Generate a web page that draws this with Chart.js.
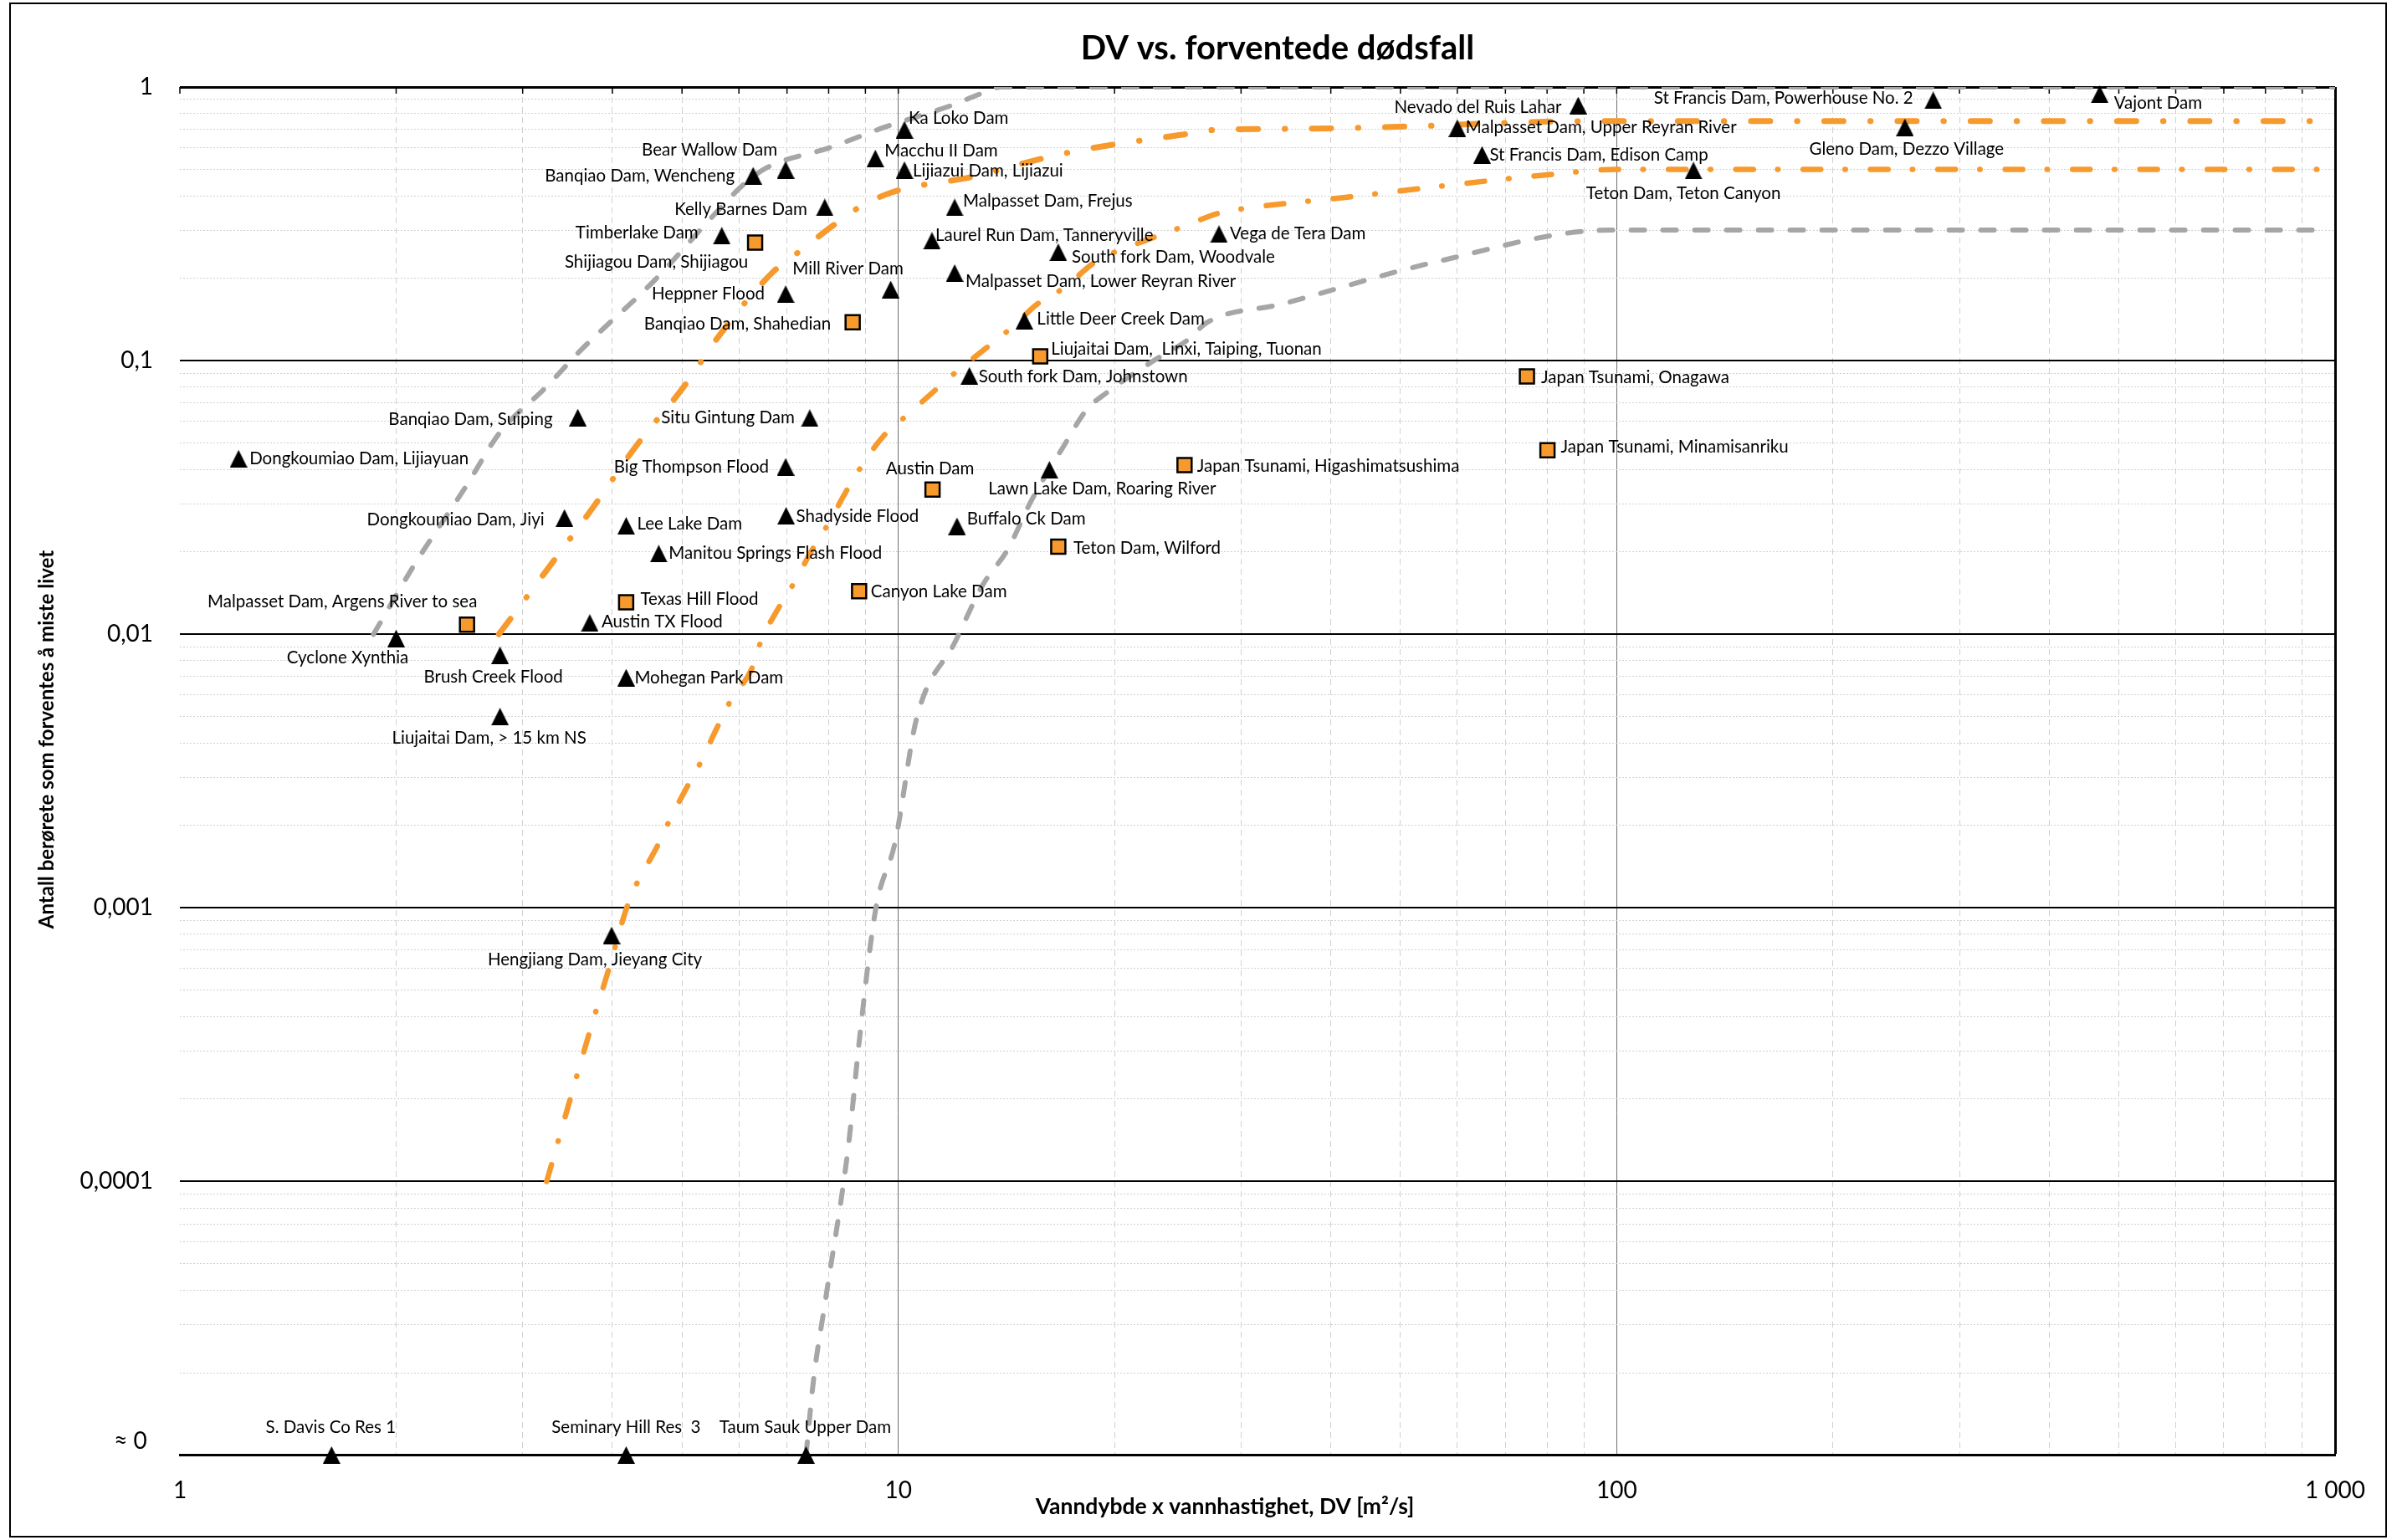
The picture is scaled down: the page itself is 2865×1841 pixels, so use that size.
<!DOCTYPE html>
<html>
<head>
<meta charset="utf-8">
<title>DV vs. forventede dødsfall</title>
<script src="https://cdn.jsdelivr.net/npm/chart.js@4.4.1/dist/chart.umd.min.js"></script>
<style>
  html, body { margin: 0; padding: 0; background: #ffffff; }
  #wrap { width: 2865px; height: 1841px; position: relative; }
</style>
</head>
<body>
<div id="wrap"><canvas id="c" width="2865" height="1841"></canvas></div>
<script>
// ---- Text ----
const chartTitle = 'DV vs. forventede dødsfall';
const xTitle = 'Vanndybde x vannhastighet, DV [m²/s]';
const yTitle = 'Antall berørete som forventes å miste livet';
const xTickLabels = ['1', '10', '100', '1 000'];          // decades 10^0 .. 10^3
const yTickLabels = ['≈ 0', '0,0001', '0,001', '0,01', '0,1', '1']; // decades 10^-5 .. 10^0

// ---- Dam failures (triangles) ----
const triNames = [
  'Dongkoumiao Dam, Lijiayuan', 'Banqiao Dam, Suiping', 'Dongkoumiao Dam, Jiyi', 'Lee Lake Dam',
  'Manitou Springs Flash Flood', 'Austin TX Flood', 'Cyclone Xynthia', 'Brush Creek Flood',
  'Liujaitai Dam, > 15 km NS', 'Mohegan Park Dam', 'Hengjiang Dam, Jieyang City', 'Bear Wallow Dam',
  'Banqiao Dam, Wencheng', 'Kelly Barnes Dam', 'Timberlake Dam', 'Heppner Flood',
  'Mill River Dam', 'Ka Loko Dam', 'Macchu II Dam', 'Lijiazui Dam, Lijiazui',
  'Malpasset Dam, Frejus', 'Laurel Run Dam, Tanneryville', 'Malpasset Dam, Lower Reyran River', 'South fork Dam, Woodvale',
  'Vega de Tera Dam', 'Little Deer Creek Dam', 'South fork Dam, Johnstown', 'Situ Gintung Dam',
  'Big Thompson Flood', 'Shadyside Flood', 'Lawn Lake Dam, Roaring River', 'Buffalo Ck Dam',
  'Nevado del Ruis Lahar', 'Malpasset Dam, Upper Reyran River', 'St Francis Dam, Edison Camp', 'Teton Dam, Teton Canyon',
  'St Francis Dam, Powerhouse No. 2', 'Vajont Dam', 'Gleno Dam, Dezzo Village', 'S. Davis Co Res 1',
  'Seminary Hill Res  3', 'Taum Sauk Upper Dam'
];
const triDV = [
  1.207, 3.58, 3.43, 4.18,
  4.64, 3.72, 2.00, 2.79,
  2.79, 4.18, 3.99, 6.97,
  6.28, 7.90, 5.68, 6.97,
  9.76, 10.2, 9.29, 10.2,
  11.98, 11.14, 11.98, 16.7,
  27.95, 14.98, 12.56, 7.53,
  6.97, 6.98, 16.23, 12.07,
  88.4, 60.0, 64.95, 127.9,
  275.8, 470.3, 251.9, 1.626,
  4.18, 7.44
];
const triShare = [
  0.0438, 0.0619, 0.0266, 0.0249,
  0.0197, 0.0110, 0.00965, 0.00838,
  0.0050, 0.00694, 0.000793, 0.498,
  0.474, 0.363, 0.286, 0.175,
  0.182, 0.698, 0.548, 0.497,
  0.363, 0.274, 0.209, 0.249,
  0.290, 0.140, 0.088, 0.0616,
  0.0409, 0.0271, 0.0399, 0.0248,
  0.856, 0.707, 0.565, 0.495,
  0.894, 0.941, 0.712, 0.00001,
  0.00001, 0.00001
];

// ---- Tsunamis and other floods (squares) ----
const sqNames = [
  'Shijiagou Dam, Shijiagou', 'Banqiao Dam, Shahedian', 'Liujaitai Dam,  Linxi, Taiping, Tuonan',
  'Malpasset Dam, Argens River to sea', 'Texas Hill Flood', 'Austin Dam', 'Teton Dam, Wilford',
  'Canyon Lake Dam', 'Japan Tsunami, Higashimatsushima', 'Japan Tsunami, Onagawa', 'Japan Tsunami, Minamisanriku'
];
const sqDV = [6.32, 8.64, 15.76, 2.51, 4.18, 11.16, 16.7, 8.82, 25.03, 75.0, 80.1];
const sqShare = [0.270, 0.138, 0.1036, 0.01084, 0.01308, 0.0338, 0.0209, 0.01437, 0.0415, 0.0876, 0.047];

// ---- Envelope curves ----
const grayUpperDV    = [1.86, 2.115, 2.50, 2.79, 3.23, 3.60, 4.60, 5.50, 6.10, 6.58, 8.02, 9.60, 11.79, 13.06, 13.9, 1000];
const grayUpperShare = [0.00999, 0.01775, 0.0346, 0.0547, 0.0797, 0.108, 0.199, 0.334, 0.442, 0.509, 0.600, 0.715, 0.852, 0.947, 1, 1];

const grayLowerDV    = [7.44, 7.63, 7.92, 8.52, 8.82, 9.30, 9.90, 10.6, 12.0, 13.1, 14.2, 15.3, 17.0, 18.3, 19.5, 22.5, 25.5, 26.8, 34.2, 56.2, 98, 940];
const grayLowerShare = [0.00001, 0.0000193, 0.000037, 0.000134, 0.000322, 0.000987, 0.00174, 0.0049, 0.00938, 0.0151, 0.0204, 0.0306, 0.0488, 0.0663, 0.0763, 0.0987, 0.121, 0.137, 0.161, 0.230, 0.30, 0.30];

const orangeUpperDV    = [2.78, 3.27, 3.76, 4.33, 5.02, 5.64, 6.67, 7.32, 8.01, 8.82, 9.79, 10.99, 12.36, 15.47, 17.43, 19.56, 22.0, 24.7, 27.85, 35.1, 56.3, 67.4, 90.5, 1000];
const orangeUpperShare = [0.0100, 0.0177, 0.0291, 0.0493, 0.0798, 0.124, 0.209, 0.253, 0.304, 0.363, 0.412, 0.442, 0.463, 0.539, 0.579, 0.611, 0.640, 0.668, 0.698, 0.703, 0.723, 0.737, 0.75, 0.75];

const orangeLowerDV    = [3.24, 3.72, 3.96, 4.21, 4.65, 4.80, 5.04, 5.32, 5.57, 5.85, 6.25, 6.45, 6.78, 7.18, 7.56, 8.01, 8.43, 8.93, 9.53, 10.31, 11.25, 12.16, 13.30, 14.38, 15.62, 17.09, 18.70, 22.8, 25.1, 27.9, 30.8, 34.6, 43.0, 53.1, 65.7, 81.6, 100, 1000];
const orangeLowerShare = [0.0001, 0.000353, 0.000605, 0.00104, 0.00174, 0.00208, 0.00266, 0.00344, 0.00445, 0.00575, 0.00746, 0.00953, 0.0122, 0.0156, 0.0200, 0.0256, 0.0327, 0.0419, 0.0529, 0.0635, 0.0779, 0.0929, 0.112, 0.132, 0.161, 0.186, 0.227, 0.2836, 0.311, 0.3455, 0.362, 0.375, 0.398, 0.425, 0.453, 0.48, 0.50, 0.50];

// ---- Label placement (text alignment, dx, dy in px from the marker) ----
const triLabelPlace = [
  ['left', 13, 0], ['right', -30, 2], ['right', -24, 2], ['left', 13, -2],
  ['left', 12, 0], ['left', 14, -1], ['center', -58, 23], ['center', -8, 26],
  ['center', -13, 26], ['left', 10, 0], ['center', -20, 29], ['center', -91, -24],
  ['right', -22, 0], ['right', -21, 2], ['right', -28, -3], ['right', -25, 0],
  ['center', -51, -25], ['left', 5, -14], ['left', 11, -9], ['left', 10, 1],
  ['left', 10, -8], ['left', 4, -7], ['left', 13, 10], ['left', 16, 6],
  ['left', 13, 0], ['left', 15, -2], ['left', 11, 1], ['right', -18, -1],
  ['right', -20, 0], ['left', 12, 1], ['center', 63, 23], ['left', 12, -9],
  ['right', -20, 2], ['left', 10, -1], ['left', 9, 0], ['center', -12, 27],
  ['right', -24, -3], ['left', 17, 11], ['center', 2, 26], ['center', -1, -33],
  ['center', 0, -33], ['center', -1, -33]
];
const sqLabelPlace = [
  ['center', -118, 23], ['right', -26, 2], ['left', 13, -9],
  ['center', -149, -27], ['left', 17, -4], ['center', -3, -25], ['left', 18, 2],
  ['left', 14, 1], ['left', 15, 1], ['left', 17, 1], ['left', 16, -4]
];

// ---- Styling ----
const ORANGE = '#F79A2E';
const GRAY = '#A6A6A6';
const FONT = 'Lato, "Open Sans", sans-serif';

const toPts = (xs, ys) => xs.map((x, i) => ({ x, y: ys[i] }));

// filled black triangle used as point marker
const triImg = document.createElement('canvas');
triImg.width = 21; triImg.height = 21;
(() => {
  const g = triImg.getContext('2d');
  g.fillStyle = '#000';
  g.beginPath(); g.moveTo(10.5, 0); g.lineTo(21, 21); g.lineTo(0, 21); g.closePath(); g.fill();
})();

// 1-2-...-9 ticks for every decade
function decadeTicks(minExp, maxExp) {
  const t = [];
  for (let e = minExp; e < maxExp; e++) {
    for (let m = 1; m < 10; m++) t.push({ value: +(m * Math.pow(10, e)).toPrecision(6), major: m === 1 });
  }
  t.push({ value: +Math.pow(10, maxExp).toPrecision(6), major: true });
  return t;
}
const isDecade = v => Math.abs(Math.log10(v) - Math.round(Math.log10(v))) < 1e-6;
const expOf = v => Math.round(Math.log10(v));

const decor = {
  id: 'decor',
  beforeDatasetsDraw(chart) {
    // short inward tick marks along the top edge of the plot
    const { ctx, chartArea: a, scales: { x } } = chart;
    ctx.save();
    ctx.strokeStyle = '#000';
    ctx.lineWidth = 1.5;
    x.ticks.forEach(t => {
      const p = x.getPixelForValue(t.value);
      ctx.beginPath(); ctx.moveTo(p, a.top); ctx.lineTo(p, a.top + 8); ctx.stroke();
    });
    ctx.restore();
  },
  afterDatasetsDraw(chart) {
    // point labels
    const { ctx, scales: { x, y } } = chart;
    ctx.save();
    ctx.font = '20.5px ' + FONT;
    ctx.fillStyle = '#000';
    ctx.textBaseline = 'middle';
    const put = (names, xs, ys, place) => {
      names.forEach((n, i) => {
        const px = x.getPixelForValue(xs[i]);
        const py = y.getPixelForValue(ys[i]);
        const [al, dx, dy] = place[i];
        ctx.textAlign = al;
        ctx.fillText(n, px + dx, py + dy);
      });
    };
    put(triNames, triDV, triShare, triLabelPlace);
    put(sqNames, sqDV, sqShare, sqLabelPlace);
    ctx.restore();
  },
  afterDraw(chart) {
    const { ctx } = chart;
    ctx.save();
    ctx.fillStyle = '#000';
    ctx.textAlign = 'center';
    ctx.textBaseline = 'middle';
    ctx.font = 'bold 40px ' + FONT;
    ctx.fillText(chartTitle, 1527, 58);
    ctx.font = 'bold 26.5px ' + FONT;
    ctx.fillText(xTitle, 1464, 1801);
    ctx.font = 'bold 24px ' + FONT;
    ctx.translate(56, 884);
    ctx.rotate(-Math.PI / 2);
    ctx.fillText(yTitle, 0, 0);
    ctx.restore();
    // chart frame
    ctx.save();
    ctx.strokeStyle = '#000';
    ctx.lineWidth = 2;
    ctx.strokeRect(12, 4, 2840, 1833);
    ctx.restore();
  }
};

const lineDs = (xs, ys, color, width, dash) => ({
  data: toPts(xs, ys),
  showLine: true,
  pointRadius: 0,
  borderColor: color,
  borderWidth: width,
  borderDash: dash,
  borderCapStyle: 'round',
  borderJoinStyle: 'round',
  cubicInterpolationMode: 'monotone',
  fill: false,
  order: 1
});

new Chart(document.getElementById('c'), {
  type: 'scatter',
  data: {
    datasets: [
      {
        label: 'Dammbrudd',
        data: toPts(triDV, triShare),
        pointStyle: triImg,
        pointRadius: 10,
        clip: false,
        order: 0
      },
      {
        label: 'Tsunami og flom',
        data: toPts(sqDV, sqShare),
        pointStyle: 'rect',
        pointRadius: 12,
        backgroundColor: ORANGE,
        borderColor: '#000',
        borderWidth: 2.5,
        clip: false,
        order: 0
      },
      lineDs(grayUpperDV, grayUpperShare, GRAY, 6, [16, 22]),
      lineDs(grayLowerDV, grayLowerShare, GRAY, 6, [16, 22]),
      lineDs(orangeUpperDV, orangeUpperShare, ORANGE, 7, [23, 32, 0.5, 32]),
      lineDs(orangeLowerDV, orangeLowerShare, ORANGE, 6.5, [21, 29, 0.5, 30])
    ]
  },
  options: {
    responsive: false,
    animation: false,
    events: [],
    devicePixelRatio: 1,
    layout: { padding: { top: 104, right: 74, bottom: 0, left: 0 } },
    plugins: { legend: { display: false }, tooltip: { enabled: false }, title: { display: false } },
    scales: {
      x: {
        type: 'logarithmic',
        position: 'bottom',
        min: 1,
        max: 1000,
        afterBuildTicks: s => { s.ticks = decadeTicks(0, 3); },
        afterFit: s => { s.height = 101.5; },
        ticks: {
          autoSkip: false,
          maxRotation: 0,
          padding: 26,
          color: '#000',
          font: { family: FONT, size: 28 },
          callback: v => (isDecade(v) ? xTickLabels[expOf(v)] : '')
        },
        grid: {
          drawTicks: false,
          color: c => {
            const v = c.tick && c.tick.value;
            if (v === undefined) return 'rgba(0,0,0,0)';
            if (v === 1) return 'rgba(0,0,0,0)';
            if (v === 1000) return '#000';
            return isDecade(v) ? '#707070' : '#D0D0D0';
          },
          lineWidth: c => {
            const v = c.tick && c.tick.value;
            if (v === 1000) return 3;
            return 1;
          }
        },
        border: {
          display: true,
          color: '#000',
          width: 3,
          dash: c => {
            const v = c.tick && c.tick.value;
            if (v === undefined || isDecade(v)) return [];
            return [7, 5];
          }
        }
      },
      y: {
        type: 'logarithmic',
        position: 'left',
        min: 0.00001,
        max: 1,
        afterBuildTicks: s => { s.ticks = decadeTicks(-5, 0); },
        afterFit: s => { s.width = 215; },
        ticks: {
          autoSkip: false,
          padding: 32,
          color: '#000',
          font: { family: FONT, size: 28 },
          callback: v => {
            if (!isDecade(v)) return '';
            const e = expOf(v);
            if (e === -5) return [yTickLabels[0] + ' ', ''];
            return yTickLabels[e + 5];
          }
        },
        grid: {
          drawTicks: false,
          color: c => {
            const v = c.tick && c.tick.value;
            if (v === undefined) return 'rgba(0,0,0,0)';
            return isDecade(v) ? '#000' : '#D0D0D0';
          },
          lineWidth: c => {
            const v = c.tick && c.tick.value;
            if (v === undefined) return 1;
            if (!isDecade(v)) return 1;
            const e = expOf(v);
            return (e === 0 || e === -5) ? 3 : 2;
          }
        },
        border: {
          display: false,
          dash: c => {
            const v = c.tick && c.tick.value;
            if (v === undefined || isDecade(v)) return [];
            return [2, 2];
          }
        }
      }
    }
  },
  plugins: [decor]
});
</script>
</body>
</html>
